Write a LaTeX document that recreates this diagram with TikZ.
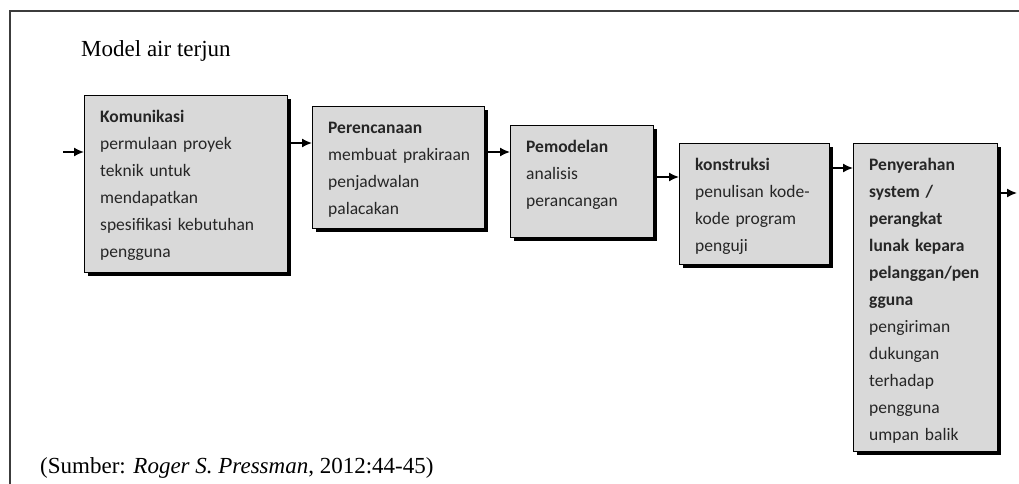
\documentclass[tikz,border=0pt]{standalone}
\usepackage{fontspec}
\setmainfont{Liberation Serif}
\newfontfamily\boxfont{Carlito}
\usepackage{xcolor}
\usetikzlibrary{positioning,arrows,arrows.meta,shadows}
\definecolor{boxgray}{RGB}{217,217,217}
\definecolor{framegray}{RGB}{60,60,60}
\tikzset{
stage/.style={draw=black, fill=boxgray, anchor=north west, align=left,
  font=\boxfont\fontsize{17.5pt}{27pt}\selectfont, text=black!85,
  inner xsep=16pt, inner ysep=0pt, text height=27pt, text width=#1,
  drop shadow={shadow xshift=4pt, shadow yshift=-4pt, fill=black, opacity=1}},
flow/.style={-{Latex[length=10pt,width=9pt]}, line width=1.6pt},
caption/.style={font=\fontsize{23pt}{28pt}\selectfont, anchor=base west, inner sep=0pt}
}

\begin{document}
\begin{tikzpicture}[x=1pt,y=-1pt]
  \useasboundingbox (0,0) rectangle (1019,484);
  \draw[framegray, line width=1.5pt] (10,484) -- (10,11) -- (1019,11);
  \node[caption] (title) at (81,57) {Model air terjun};
  % the five stages
  \node[stage=171pt, text depth=150pt] (kom) at (84,95)
    {\textbf{Komunikasi}\\permulaan proyek\\teknik untuk\\mendapatkan\\\mbox{spesifikasi kebutuhan}\\pengguna};
  \node[stage=140pt, text depth=95pt] (plan) at (312,106)
    {\textbf{Perencanaan}\\\mbox{membuat prakiraan}\\penjadwalan\\palacakan};
  \node[stage=111pt, text depth=85pt] (model) at (510,125)
    {\textbf{Pemodelan}\\analisis\\perancangan};
  \node[stage=118pt, text depth=94pt] (kons) at (679,143)
    {\textbf{konstruksi}\\\mbox{penulisan kode-}\\kode program\\penguji};
  \node[stage=112pt, text depth=281pt] (deliv) at (853,143)
    {\textbf{Penyerahan}\\\textbf{system /}\\\textbf{perangkat}\\\textbf{lunak kepara}\\\mbox{\textbf{pelanggan/pen}}\\\textbf{gguna}\\pengiriman\\dukungan\\terhadap\\pengguna\\umpan balik};
  \coordinate (in) at (63,152);
  \coordinate (out) at (1017,193);
  \draw[flow] (in) -- (kom.west |- in);
  \draw[flow] (kom.east |- 0,143) -- (plan.west |- 0,143);
  \draw[flow] (plan.east |- 0,152) -- (model.west |- 0,152);
  \draw[flow] (model.east |- 0,177) -- (kons.west |- 0,177);
  \draw[flow] (kons.east |- 0,168) -- (deliv.west |- 0,168);
  \draw[flow] (deliv.east |- out) -- (out);
  \node[caption] (src) at (40,473) {(Sumber: \textit{Roger S. Pressman}, 2012:44-45)};
\end{tikzpicture}
\end{document}
